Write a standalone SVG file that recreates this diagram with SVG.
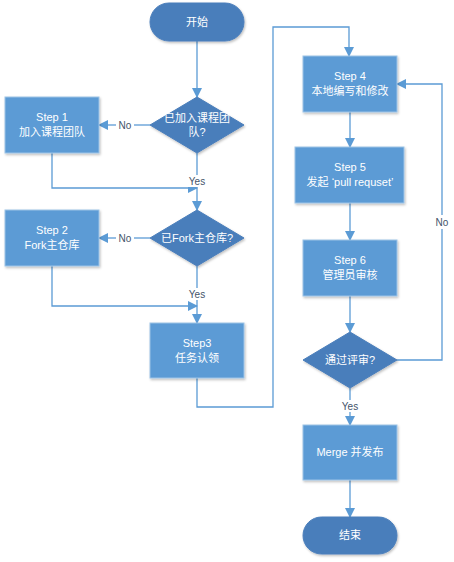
<svg xmlns="http://www.w3.org/2000/svg" width="454" height="562" viewBox="0 0 454 562">
<defs>
<marker id="ah" markerWidth="10" markerHeight="10" refX="9" refY="5" orient="auto" markerUnits="userSpaceOnUse">
<path d="M0,0 L10,5 L0,10 Z" fill="#5b9bd5"/>
</marker>
<filter id="sh" x="-10%" y="-10%" width="130%" height="130%">
<feDropShadow dx="1" dy="1.5" stdDeviation="1" flood-color="#000" flood-opacity="0.25"/>
</filter>
</defs>
<style>
.rect{fill:#5b9bd5;stroke:#9dc3e6;stroke-width:1;filter:url(#sh)}
.dark{fill:#4a7ebb;stroke:#4a7ebb;stroke-width:1;filter:url(#sh)}
.t{font-family:"Liberation Sans","Noto Sans CJK SC",sans-serif;font-size:11px;fill:#fff;text-anchor:middle}
.lbl{font-family:"Liberation Sans","Noto Sans CJK SC",sans-serif;font-size:10px;fill:#44546a;text-anchor:middle}
.c{fill:none;stroke:#5b9bd5;stroke-width:1.3;marker-end:url(#ah)}
.c2{fill:none;stroke:#5b9bd5;stroke-width:1.3}
.bg{fill:#fff}
</style>
<rect width="454" height="562" fill="#fff"/>
<g id="connectors">
<path class="c" d="M197,41 V97"/>
<path class="c2" d="M150,125 H134"/>
<path class="c" d="M116,125 H99"/>
<path class="c" d="M197,153 V210"/>
<path class="c" d="M52,153 V188 H197"/>
<path class="c2" d="M150,238 H134"/>
<path class="c" d="M116,238 H99"/>
<path class="c" d="M197,266 V323"/>
<path class="c" d="M52,266 V306 H197"/>
<path class="c" d="M197,378 V407 H273 V27 H349 V56"/>
<path class="c" d="M350,112 V147"/>
<path class="c" d="M350,203 V240"/>
<path class="c" d="M350,296 V332"/>
<path class="c" d="M397,360 H442 V84 H397"/>
<path class="c" d="M350,388 V425"/>
<path class="c" d="M350,480 V517"/>
<rect class="bg" x="185" y="175" width="24" height="12"/>
<text class="lbl" x="197" y="185">Yes</text>
<rect class="bg" x="185" y="288" width="24" height="12"/>
<text class="lbl" x="197" y="298">Yes</text>
<text class="lbl" x="125" y="129">No</text>
<text class="lbl" x="125" y="242">No</text>
<rect class="bg" x="434" y="215" width="16" height="14"/>
<text class="lbl" x="442" y="226">No</text>
<rect class="bg" x="338" y="400" width="24" height="12"/>
<text class="lbl" x="350" y="410">Yes</text>
</g>
<g id="start">
<rect class="dark" x="150" y="3" width="94" height="38" rx="19"/>
<text class="t" x="197" y="26">开始</text>
</g>
<g id="d1">
<polygon class="dark" points="197,97 244,125 197,153 150,125"/>
<text class="t" x="197" y="122">已加入课程团</text>
<text class="t" x="197" y="136">队?</text>
</g>
<g id="s1">
<rect class="rect" x="5" y="97" width="94" height="56"/>
<text class="t" x="52" y="121">Step 1</text>
<text class="t" x="52" y="136">加入课程团队</text>
</g>
<g id="d2">
<polygon class="dark" points="197,210 244,238 197,266 150,238"/>
<text class="t" x="197" y="242">已Fork主仓库?</text>
</g>
<g id="s2">
<rect class="rect" x="5" y="210" width="94" height="56"/>
<text class="t" x="52" y="234">Step 2</text>
<text class="t" x="52" y="249">Fork主仓库</text>
</g>
<g id="s3">
<rect class="rect" x="150" y="323" width="94" height="55"/>
<text class="t" x="197" y="347">Step3</text>
<text class="t" x="197" y="362">任务认领</text>
</g>
<g id="s4">
<rect class="rect" x="303" y="56" width="94" height="56"/>
<text class="t" x="350" y="80">Step 4</text>
<text class="t" x="350" y="95">本地编写和修改</text>
</g>
<g id="s5">
<rect class="rect" x="295" y="147" width="109" height="56"/>
<text class="t" x="350" y="171">Step 5</text>
<text class="t" x="350" y="186">发起 ‘pull requset’</text>
</g>
<g id="s6">
<rect class="rect" x="303" y="240" width="94" height="56"/>
<text class="t" x="350" y="264">Step 6</text>
<text class="t" x="350" y="279">管理员审核</text>
</g>
<g id="d3">
<polygon class="dark" points="350,332 397,360 350,388 303,360"/>
<text class="t" x="350" y="364">通过评审?</text>
</g>
<g id="merge">
<rect class="rect" x="303" y="425" width="94" height="55"/>
<text class="t" x="350" y="456">Merge 并发布</text>
</g>
<g id="end">
<rect class="dark" x="303" y="517" width="94" height="37" rx="18.5"/>
<text class="t" x="350" y="539">结束</text>
</g>
</svg>
